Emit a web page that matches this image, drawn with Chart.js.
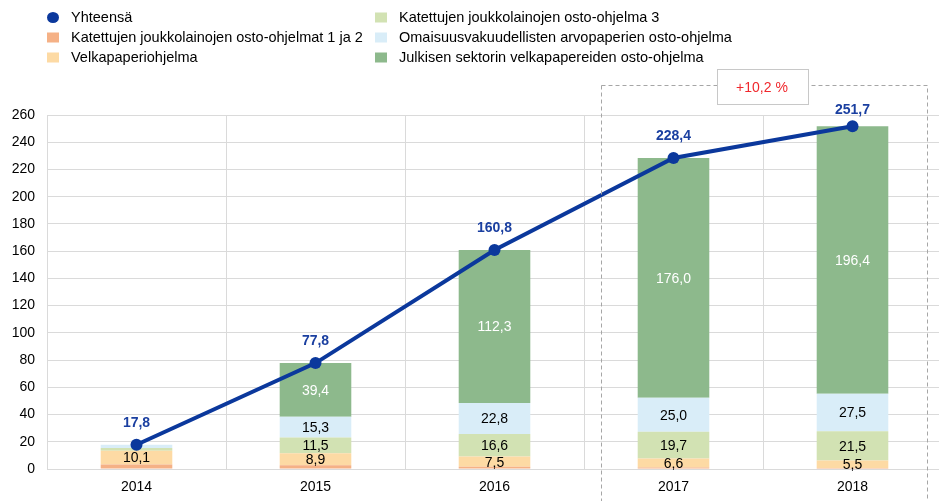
<!DOCTYPE html>
<html>
<head>
<meta charset="utf-8">
<script src="https://cdn.jsdelivr.net/npm/chart.js@4/dist/chart.umd.min.js"></script>
<style>
  html, body { margin: 0; padding: 0; background: #fff; overflow: hidden; }
  #wrap { width: 948px; height: 501px; }
</style>
</head>
<body>
<div id="wrap"><canvas id="ohjelmat" width="948" height="501"></canvas></div>
<script>
const vuodet = ["2014", "2015", "2016", "2017", "2018"];

const yhteensa = [17.8, 77.8, 160.8, 228.4, 251.7];
const katettu12 = [3.3, 2.7, 1.6, 1.1, 0.8];
const velkapaperi = [10.1, 8.9, 7.5, 6.6, 5.5];
const katettu3 = [2.0, 11.5, 16.6, 19.7, 21.5];
const omaisuus = [2.4, 15.3, 22.8, 25.0, 27.5];
const julkinen = [0, 39.4, 112.3, 176.0, 196.4];

const yTicks = [0, 20, 40, 60, 80, 100, 120, 140, 160, 180, 200, 220, 240, 260];
const muutosTeksti = "+10,2 %";

const FONT = "'Liberation Sans', Arial, sans-serif";
const fmt = v => v.toFixed(1).replace(".", ",");

// legend drawn by hand: two columns of three rows
const legendaPlugin = {
  id: "legenda",
  afterDraw(chart) {
    const ctx = chart.ctx;
    const cols = [
      [0, 1, 2],
      [3, 4, 5]
    ];
    const colX = [47, 375];
    const rowY = [17.5, 37.5, 57.5];
    ctx.save();
    ctx.font = "14.5px " + FONT;
    ctx.textBaseline = "middle";
    cols.forEach((col, c) => {
      col.forEach((di, r) => {
        const ds = chart.data.datasets[di];
        const x = colX[c], y = rowY[r];
        if (ds.type === "line") {
          ctx.fillStyle = ds.borderColor;
          ctx.beginPath();
          ctx.ellipse(x + 6, y, 6, 5.5, 0, 0, Math.PI * 2);
          ctx.fill();
        } else {
          ctx.fillStyle = ds.backgroundColor;
          ctx.fillRect(x, y - 5, 12, 10);
        }
        ctx.fillStyle = "#000";
        ctx.fillText(ds.label, x + 24, y + 0.5);
      });
    });
    ctx.restore();
  }
};

// values inside the bar segments and above the line points
const arvoPlugin = {
  id: "arvot",
  afterDatasetsDraw(chart) {
    const ctx = chart.ctx;
    const kehysYla = chart.scales.y.top - 30;
    ctx.save();
    ctx.textAlign = "center";
    ctx.textBaseline = "middle";
    chart.data.datasets.forEach((ds, di) => {
      const meta = chart.getDatasetMeta(di);
      if (ds.type === "line") {
        ctx.font = "bold 14px " + FONT;
        ctx.fillStyle = "#1a3fa0";
        meta.data.forEach((pt, i) => {
          const y = Math.max(pt.y - 22, kehysYla + 25);
          ctx.fillText(fmt(ds.data[i]), pt.x, y);
        });
        return;
      }
      if (!ds.showLabels) return;
      ctx.font = "14px " + FONT;
      ctx.fillStyle = ds.labelColor;
      meta.data.forEach((bar, i) => {
        const v = ds.data[i];
        if (v < 5) return;
        ctx.fillText(fmt(v), bar.x, (bar.y + bar.base) / 2 + 1);
      });
    });
    ctx.restore();
  }
};

// dashed frame around 2017-2018 with the change label
const kehysPlugin = {
  id: "kehys",
  afterDraw(chart) {
    const ctx = chart.ctx;
    const xs = chart.scales.x;
    const ys = chart.scales.y;
    const cat = (xs.right - xs.left) / vuodet.length;
    const left = xs.getPixelForValue(3) - cat * 0.405;
    const right = xs.getPixelForValue(4) + cat * 0.415;
    const top = ys.top - 30;
    const bottom = chart.height + 2;
    ctx.save();
    ctx.strokeStyle = "#a6a6a6";
    ctx.lineWidth = 1;
    ctx.setLineDash([4, 3]);
    ctx.strokeRect(Math.round(left) + 0.5, Math.round(top) + 0.5, Math.round(right - left), bottom - top);
    ctx.setLineDash([]);
    const cx = (xs.getPixelForValue(3) + xs.getPixelForValue(4)) / 2 - 1;
    const bw = 91, bh = 35;
    const bx = Math.round(cx - bw / 2) + 0.5, by = Math.round(top - 16) + 0.5;
    ctx.fillStyle = "#fff";
    ctx.fillRect(bx, by, bw, bh);
    ctx.strokeStyle = "#c8c8c8";
    ctx.strokeRect(bx, by, bw, bh);
    ctx.font = "14px " + FONT;
    ctx.fillStyle = "#f0282d";
    ctx.textAlign = "center";
    ctx.textBaseline = "middle";
    ctx.fillText(muutosTeksti, cx, by + bh / 2 + 1);
    ctx.restore();
  }
};

function palkki(label, data, color, showLabels, labelColor) {
  return {
    type: "bar",
    label: label,
    data: data,
    backgroundColor: color,
    borderWidth: 0,
    stack: "s",
    order: 2,
    barPercentage: 0.4,
    categoryPercentage: 1.0,
    showLabels: showLabels,
    labelColor: labelColor || "#000"
  };
}

new Chart(document.getElementById("ohjelmat").getContext("2d"), {
  data: {
    labels: vuodet,
    datasets: [
      {
        type: "line",
        label: "Yhteensä",
        data: yhteensa,
        borderColor: "#0b389c",
        backgroundColor: "#0b389c",
        borderWidth: 4,
        pointRadius: 6,
        pointHoverRadius: 6,
        pointBackgroundColor: "#0b389c",
        pointBorderWidth: 0,
        tension: 0,
        order: 0
      },
      palkki("Katettujen joukkolainojen osto-ohjelmat 1 ja 2", katettu12, "#f5b186", false),
      palkki("Velkapaperiohjelma", velkapaperi, "#fddaa4", true),
      palkki("Katettujen joukkolainojen osto-ohjelma 3", katettu3, "#d2e2b3", true),
      palkki("Omaisuusvakuudellisten arvopaperien osto-ohjelma", omaisuus, "#d9edf8", true),
      palkki("Julkisen sektorin velkapapereiden osto-ohjelma", julkinen, "#8db98c", true, "#fff")
    ]
  },
  options: {
    responsive: false,
    animation: false,
    layout: { padding: { top: 115, left: 10, right: 0, bottom: 0 } },
    plugins: {
      legend: { display: false },
      tooltip: { enabled: false }
    },
    scales: {
      x: {
        stacked: true,
        offset: true,
        grid: { color: "#dadada", lineWidth: 1, offset: true, drawTicks: false },
        border: { color: "#dadada" },
        ticks: { color: "#000", font: { family: FONT, size: 14 }, padding: 10 },
        afterFit: s => { s.height = 32; }
      },
      y: {
        stacked: true,
        min: 0,
        max: 260,
        afterBuildTicks: s => { s.ticks = yTicks.map(v => ({ value: v })); },
        grid: { color: "#dadada", lineWidth: 1, drawTicks: false },
        border: { color: "#dadada" },
        ticks: { color: "#000", font: { family: FONT, size: 14 }, padding: 12 },
        afterFit: s => { s.width = 37; }
      }
    }
  },
  plugins: [legendaPlugin, arvoPlugin, kehysPlugin]
});
</script>
</body>
</html>
